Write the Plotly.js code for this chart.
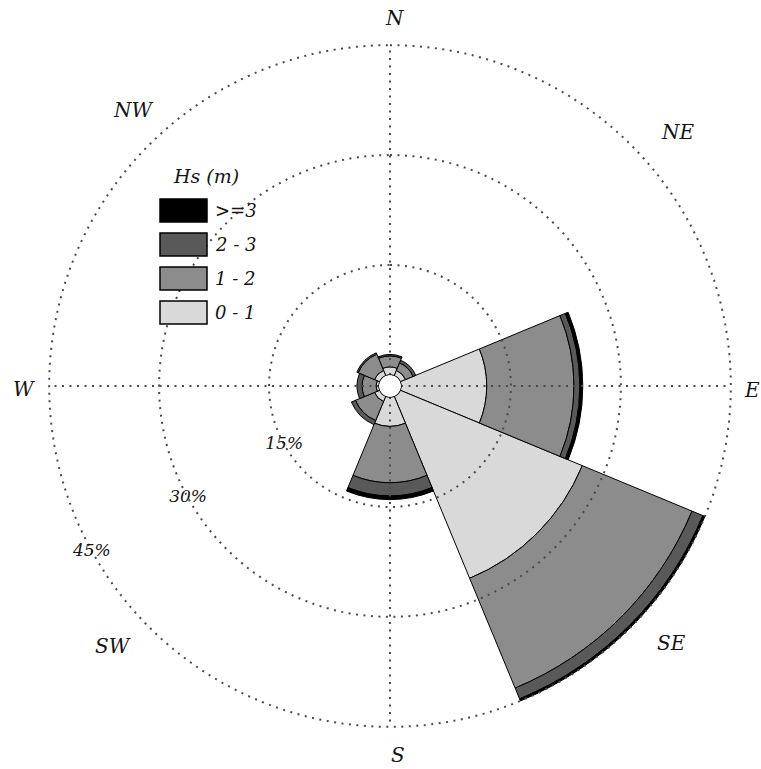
<!DOCTYPE html>
<html>
<head>
<meta charset="utf-8">
<script src="https://cdn.plot.ly/plotly-3.0.1.min.js"></script>
<style>
  html, body { margin: 0; padding: 0; background: #fff; }
  #chart { width: 761px; height: 769px; }
</style>
</head>
<body>
<div id="chart"></div>
<script>
// Wave rose: frequency of occurrence (%) per incoming direction, stacked by Hs class
const directions = ['N', 'NE', 'E', 'SE', 'S', 'SW', 'W', 'NW'];
const bearings   = [0, 45, 90, 135, 180, 225, 270, 315];
const hsClasses  = ['0 - 1', '1 - 2', '2 - 3', '>=3'];
const hs0to1 = [1.1, 0.8, 11.7, 26.9, 4.0, 0.8, 0.4, 0.8];
const hs1to2 = [1.5, 1.1, 11.9, 16.2, 7.7, 2.8, 1.9, 2.4];
const hs2to3 = [0.2, 0.4, 0.8, 1.6, 1.8, 0.6, 0.7, 0.2];
const hs3up  = [0.0, 0.0, 0.4, 0.3, 0.5, 0.0, 0.0, 0.0];
const ringValues = [15, 30, 45];
const ringLabels = ['15%', '30%', '45%'];
const ringLabelBearing = 241;

const classValues = [hs0to1, hs1to2, hs2to3, hs3up];
const classColors = ['#d9d9d9', '#8c8c8c', '#595959', '#000000'];

const serifFamily = 'DejaVu Serif, Liberation Serif, serif';
const serif = size => ({ family: serifFamily, style: 'italic', size: size, color: '#151515' });
const gridLine = { color: '#4a4a4a', width: 2, dash: '2px,5.5px' };

const traces = [];

// stacked sectors, innermost class first
classValues.forEach((vals, i) => {
  traces.push({
    type: 'barpolar',
    name: hsClasses[i],
    r: vals,
    theta: bearings,
    width: 45,
    marker: { color: classColors[i], line: { color: '#000', width: 1 } },
    hoverinfo: 'skip'
  });
});

// dotted rings drawn over the sectors
const circleTheta = [];
for (let a = 0; a <= 360; a += 2) circleTheta.push(a);
ringValues.forEach(v => {
  traces.push({
    type: 'scatterpolar', mode: 'lines',
    r: circleTheta.map(() => v), theta: circleTheta,
    line: gridLine, hoverinfo: 'skip'
  });
});

// dotted N-S / E-W cross
const crossR = [], crossT = [];
[0, 90, 180, 270].forEach(b => { crossR.push(0, ringValues[2], null); crossT.push(b, b, null); });
traces.push({
  type: 'scatterpolar', mode: 'lines', r: crossR, theta: crossT,
  line: gridLine, hoverinfo: 'skip'
});

// outline of the calm circle
traces.push({
  type: 'scatterpolar', mode: 'lines',
  r: circleTheta.map(() => 0), theta: circleTheta,
  line: { color: '#000', width: 1.3 }, hoverinfo: 'skip'
});

// ring percentage labels
traces.push({
  type: 'scatterpolar', mode: 'text',
  r: ringValues, theta: ringValues.map(() => ringLabelBearing),
  text: ringLabels, textposition: 'middle center',
  textfont: serif(17), hoverinfo: 'skip', cliponaxis: false
});

// page geometry
const W = 761, H = 769, mL = 44, mR = 25, mT = 40, mB = 37;
const pw = W - mL - mR, ph = H - mT - mB;
const px = x => (x - mL) / pw;
const py = y => 1 - (y - mT) / ph;

// compass labels around the rose
const compassSpots = {
  N: [395, 18], NE: [678, 132], E: [752, 390], SE: [671, 643],
  S: [398, 755], SW: [113, 646], W: [24, 389], NW: [133, 110]
};
const annotations = directions.map(d => ({
  xref: 'paper', yref: 'paper', x: px(compassSpots[d][0]), y: py(compassSpots[d][1]),
  xanchor: 'center', yanchor: 'middle', showarrow: false,
  text: d, font: serif(20)
}));

// legend built from the class arrays (top: >=3 ... bottom: 0 - 1)
const shapes = [];
annotations.push({
  xref: 'paper', yref: 'paper', x: px(171), y: py(176),
  xanchor: 'left', yanchor: 'middle', showarrow: false,
  text: 'Hs (m)', font: serif(19)
});
const swatchTops = [199, 233, 267, 301];
for (let k = 0; k < hsClasses.length; k++) {
  const idx = hsClasses.length - 1 - k;
  const top = swatchTops[k];
  shapes.push({
    type: 'rect', xref: 'paper', yref: 'paper',
    x0: px(160), x1: px(207), y0: py(top), y1: py(top + 23),
    fillcolor: classColors[idx], line: { color: '#000', width: 1.5 }
  });
  annotations.push({
    xref: 'paper', yref: 'paper', x: px(213), y: py(top + 11.5),
    xanchor: 'left', yanchor: 'middle', showarrow: false,
    text: hsClasses[idx], font: serif(18)
  });
}

const layout = {
  width: W, height: H,
  margin: { l: mL, r: mR, t: mT, b: mB, pad: 0 },
  paper_bgcolor: '#fff',
  showlegend: false,
  font: serif(18),
  polar: {
    domain: { x: [0, 1], y: [0, 1] },
    hole: 11 / 346,
    bargap: 0,
    barmode: 'stack',
    bgcolor: 'rgba(0,0,0,0)',
    radialaxis: {
      range: [0, 45.7], showgrid: false, showline: false,
      showticklabels: false, ticks: ''
    },
    angularaxis: {
      direction: 'clockwise', rotation: 90,
      tickmode: 'array', tickvals: bearings, ticktext: directions,
      showgrid: false, showline: false, showticklabels: false, ticks: ''
    }
  },
  shapes: shapes,
  annotations: annotations
};

Plotly.newPlot('chart', traces, layout, { displayModeBar: false, staticPlot: true });
</script>
</body>
</html>
